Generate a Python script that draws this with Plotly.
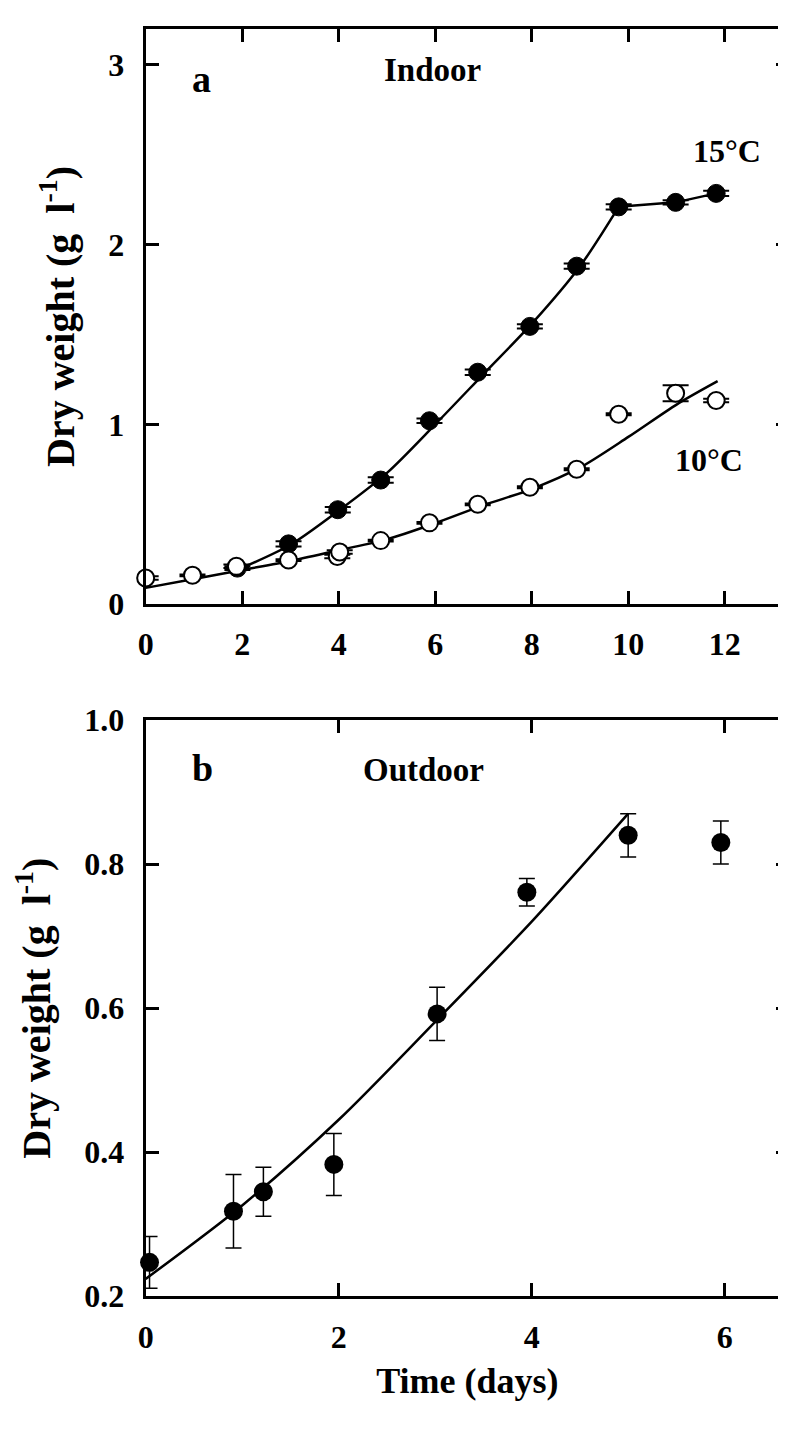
import plotly.graph_objects as go

# ---------------- data ----------------
# Panel a (Indoor) 15 °C, filled symbols
a15_x = [1.9, 2.96, 3.98, 4.87, 5.88, 6.88, 7.96, 8.93, 9.8, 10.98, 11.82]
a15_y = [0.20, 0.335, 0.525, 0.69, 1.02, 1.29, 1.545, 1.88, 2.21, 2.235, 2.285]
a15_err = [0.01, 0.015, 0.015, 0.015, 0.012, 0.015, 0.012, 0.015, 0.015, 0.012, 0.015]
# fitted curve 15 °C
a15_fit_x = [1.9, 3, 4, 5, 6, 7, 8, 9, 9.8]
a15_fit_y = [0.19, 0.33, 0.52, 0.73, 1.0, 1.28, 1.56, 1.88, 2.21]
a15_tail_x = [9.8, 10.98, 11.82]
a15_tail_y = [2.21, 2.235, 2.285]

# Panel a 10 °C, open symbols
a10_x = [0.0, 0.97, 1.88, 2.96, 3.97, 4.02, 4.87, 5.88, 6.88, 7.96, 8.93, 9.8, 10.98, 11.82]
a10_y = [0.145, 0.16, 0.21, 0.245, 0.265, 0.29, 0.353, 0.452, 0.555, 0.65, 0.75, 1.056, 1.173, 1.133]
a10_err = [0.01, 0.005, 0.01, 0.005, 0.01, 0.01, 0.005, 0.005, 0.005, 0.005, 0.005, 0.005, 0.045, 0.01]
# fitted curve 10 °C
a10_fit_x = [0, 1, 2, 3, 4, 5, 6, 7, 8, 9, 10, 11, 11.85]
a10_fit_y = [0.09, 0.14, 0.19, 0.24, 0.30, 0.36, 0.45, 0.55, 0.64, 0.76, 0.93, 1.11, 1.24]

# Panel b (Outdoor)
b_x = [0.04, 0.91, 1.22, 1.95, 3.02, 3.95, 5.0, 5.96]
b_y = [0.247, 0.318, 0.345, 0.383, 0.592, 0.761, 0.840, 0.830]
b_err = [0.036, 0.051, 0.034, 0.043, 0.037, 0.019, 0.030, 0.030]
b_fit_x = [0, 1, 2, 3, 4, 5]
b_fit_y = [0.224, 0.326, 0.445, 0.581, 0.72, 0.87]

a_xticks = [0, 2, 4, 6, 8, 10, 12]
a_yticks = [0, 1, 2, 3]
b_xticks = [0, 2, 4, 6]
b_yticks = [0.2, 0.4, 0.6, 0.8, 1.0]
b_yticktext = ["0.2", "0.4", "0.6", "0.8", "1.0"]

FONT = "Liberation Serif"
BLACK = "#000000"
NB = "\u00a0"

fig = go.Figure()

# ---- panel a ----
fig.add_trace(go.Scatter(x=a10_fit_x, y=a10_fit_y, mode="lines", line=dict(color=BLACK, width=2.5, shape="spline", smoothing=0.8),
                         xaxis="x", yaxis="y", showlegend=False, hoverinfo="skip"))
fig.add_trace(go.Scatter(x=a15_fit_x, y=a15_fit_y, mode="lines", line=dict(color=BLACK, width=2.5, shape="spline", smoothing=0.8),
                         xaxis="x", yaxis="y", showlegend=False, hoverinfo="skip"))
fig.add_trace(go.Scatter(x=a15_tail_x, y=a15_tail_y, mode="lines", line=dict(color=BLACK, width=2.5),
                         xaxis="x", yaxis="y", showlegend=False, hoverinfo="skip"))
fig.add_trace(go.Scatter(x=a15_x, y=a15_y, mode="markers", name="15°C",
                         marker=dict(symbol="circle", size=18, color=BLACK, line=dict(color=BLACK, width=1)),
                         error_y=dict(type="data", array=a15_err, visible=True, color=BLACK, thickness=2, width=13),
                         cliponaxis=False, xaxis="x", yaxis="y", showlegend=False))
fig.add_trace(go.Scatter(x=a10_x, y=a10_y, mode="markers", name="10°C",
                         marker=dict(symbol="circle", size=17, color="white", line=dict(color=BLACK, width=2)),
                         error_y=dict(type="data", array=a10_err, visible=True, color=BLACK, thickness=2, width=13),
                         cliponaxis=False, xaxis="x", yaxis="y", showlegend=False))

# ---- panel b ----
fig.add_trace(go.Scatter(x=b_fit_x, y=b_fit_y, mode="lines", line=dict(color=BLACK, width=2.5, shape="spline", smoothing=0.8),
                         xaxis="x2", yaxis="y2", showlegend=False, hoverinfo="skip"))
fig.add_trace(go.Scatter(x=b_x, y=b_y, mode="markers", name="Outdoor",
                         marker=dict(symbol="circle", size=19, color=BLACK),
                         error_y=dict(type="data", array=b_err, visible=True, color=BLACK, thickness=1.5, width=8),
                         cliponaxis=False, xaxis="x2", yaxis="y2", showlegend=False))

tickfont = dict(family=FONT, size=32, color=BLACK, weight="bold")
axis_common = dict(showline=True, linecolor=BLACK, linewidth=3, mirror="ticks", ticks="inside",
                   ticklen=13, tickwidth=3, tickcolor=BLACK, showgrid=False, zeroline=False,
                   tickfont=tickfont)

ytitle = "Dry weight (g" + NB + NB + "l<sup>-1</sup>)"
ytitle_font = dict(family=FONT, size=40, color=BLACK, weight="bold")

fig.update_layout(
    width=786, height=1430,
    margin=dict(l=0, r=0, t=0, b=0),
    paper_bgcolor="white", plot_bgcolor="white",
    xaxis=dict(domain=[131/786, 781/786], range=[0, 13.33], tickvals=a_xticks, anchor="y",
               ticklabelstandoff=10, **axis_common),
    yaxis=dict(domain=[1-593/1430, 1-3/1430], range=[0, 3.2], tickvals=a_yticks, anchor="x",
               ticklabelstandoff=12,
               title=dict(text=ytitle, font=ytitle_font, standoff=22),
               **axis_common),
    xaxis2=dict(domain=[131/786, 781/786], range=[0, 6.667], tickvals=b_xticks, anchor="y2",
                ticklabelstandoff=10,
                title=dict(text="Time (days)", font=dict(family=FONT, size=36, color=BLACK, weight="bold"), standoff=15),
                **axis_common),
    yaxis2=dict(domain=[1-1303/1430, 1-712/1430], range=[0.2, 1.0], tickvals=b_yticks, ticktext=b_yticktext, anchor="x2",
                ticklabelstandoff=12,
                title=dict(text=ytitle, font=ytitle_font, standoff=22),
                **axis_common),
)

ann_font = dict(family=FONT, color=BLACK, weight="bold")
fig.add_annotation(x=1.15, y=2.92, xref="x", yref="y", text="a", showarrow=False, font=dict(size=38, **ann_font))
fig.add_annotation(x=5.95, y=2.97, xref="x", yref="y", text="Indoor", showarrow=False, font=dict(size=33, **ann_font))
fig.add_annotation(x=12.04, y=2.52, xref="x", yref="y", text="15°C", showarrow=False, font=dict(size=32, **ann_font))
fig.add_annotation(x=11.67, y=0.80, xref="x", yref="y", text="10°C", showarrow=False, font=dict(size=32, **ann_font))
fig.add_annotation(x=0.585, y=0.934, xref="x2", yref="y2", text="b", showarrow=False, font=dict(size=38, **ann_font))
fig.add_annotation(x=2.88, y=0.931, xref="x2", yref="y2", text="Outdoor", showarrow=False, font=dict(size=33, **ann_font))

fig.write_html("out.html")
